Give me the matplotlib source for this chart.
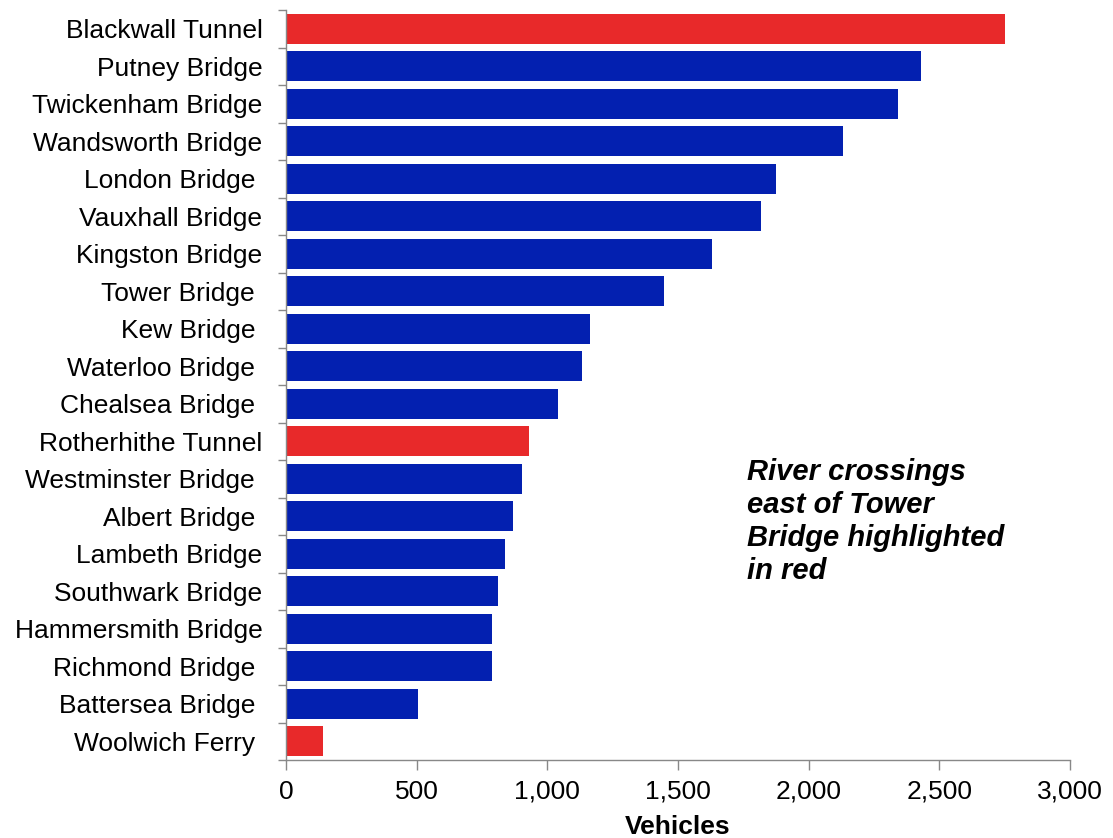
import matplotlib.pyplot as plt
from matplotlib.ticker import FuncFormatter, FixedLocator

plt.rcParams['font.family'] = ['Liberation Sans', 'DejaVu Sans']

crossings = ['Blackwall Tunnel', 'Putney Bridge', 'Twickenham Bridge', 'Wandsworth Bridge',
             'London Bridge ', 'Vauxhall Bridge', 'Kingston Bridge', 'Tower Bridge ',
             'Kew Bridge ', 'Waterloo Bridge ', 'Chealsea Bridge ', 'Rotherhithe Tunnel',
             'Westminster Bridge ', 'Albert Bridge ', 'Lambeth Bridge', 'Southwark Bridge',
             'Hammersmith Bridge', 'Richmond Bridge ', 'Battersea Bridge ', 'Woolwich Ferry ']
vehicles = [2752, 2430, 2342, 2132, 1875, 1818, 1630, 1447, 1163, 1133,
            1041, 930, 903, 869, 838, 811, 788, 788, 505, 142]
east_of_tower = ['Blackwall Tunnel', 'Rotherhithe Tunnel', 'Woolwich Ferry ']

red = '#E8292A'
blue = '#0320B0'
colors = [red if c in east_of_tower else blue for c in crossings]

fig = plt.figure(figsize=(11.13, 8.38), dpi=100)
ax = fig.add_axes([0.257, 0.093, 0.7044, 0.895])

pos = list(range(len(crossings)))
ax.barh(pos, vehicles, height=0.8, color=colors)
ax.set_ylim(len(crossings) - 0.5, -0.5)
ax.set_xlim(0, 3000)

# category labels, with tick marks drawn between the bars
ax.set_yticks(pos)
ax.set_yticklabels(crossings, fontsize=19)
ax.yaxis.set_minor_locator(FixedLocator([p - 0.5 for p in range(len(crossings) + 1)]))
ax.tick_params(axis='y', which='major', length=0, pad=17)
ax.tick_params(axis='y', which='minor', length=6, color='#888888', width=1)

ax.set_xticks(range(0, 3001, 500))
ax.xaxis.set_major_formatter(FuncFormatter(lambda v, p: f'{int(v):,}'))
ax.tick_params(axis='x', length=7, color='#888888', width=1, labelsize=19, pad=7)

for side in ['top', 'right']:
    ax.spines[side].set_visible(False)
for side in ['left', 'bottom']:
    ax.spines[side].set_color('#888888')
    ax.spines[side].set_linewidth(1)

ax.set_xlabel('Vehicles', fontsize=19, fontweight='bold', labelpad=8)

ax.text(1765, 11.45, 'River crossings\neast of Tower\nBridge highlighted\nin red',
        fontsize=21, fontweight='bold', fontstyle='italic', va='top', ha='left',
        linespacing=1.22)

fig.savefig('out.png', dpi=100)
